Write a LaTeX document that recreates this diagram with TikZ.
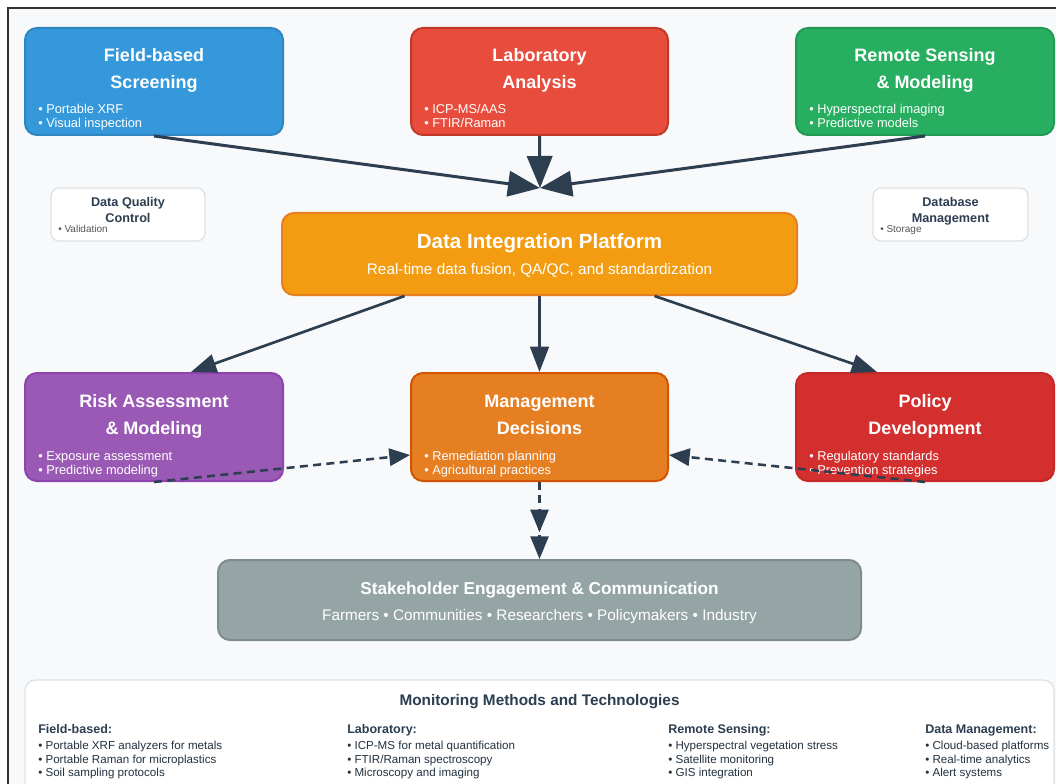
\documentclass[tikz,border=0pt]{standalone}
\usepackage{fontspec}
\setmainfont{Liberation Sans}
\usetikzlibrary{arrows.meta,calc}
\definecolor{cBg}{HTML}{F8F9FA}
\definecolor{cFrame}{HTML}{333333}
\definecolor{cBlue}{HTML}{3498DB}
\definecolor{cBlueD}{HTML}{2E86C1}
\definecolor{cRed}{HTML}{E74C3C}
\definecolor{cRedD}{HTML}{C0392B}
\definecolor{cGreen}{HTML}{27AE60}
\definecolor{cGreenD}{HTML}{229954}
\definecolor{cOrange}{HTML}{F39C12}
\definecolor{cOrangeD}{HTML}{E67E22}
\definecolor{cPurple}{HTML}{9B59B6}
\definecolor{cPurpleD}{HTML}{8E44AD}
\definecolor{cMgmt}{HTML}{E67E22}
\definecolor{cMgmtD}{HTML}{D35400}
\definecolor{cPolicy}{HTML}{D32F2F}
\definecolor{cPolicyD}{HTML}{C62828}
\definecolor{cStake}{HTML}{95A5A6}
\definecolor{cStakeD}{HTML}{7F8C8D}
\definecolor{cDark}{HTML}{2C3E50}
\definecolor{cGrayT}{HTML}{555555}
\definecolor{cLine}{HTML}{DEE2E6}
\tikzset{
  sz/.style 2 args={minimum width=#1*0.75pt, minimum height=#2*0.75pt},
  cbox/.style={draw, rounded corners=9pt, line width=1.5pt, inner sep=0pt},
  wbox/.style={draw=cLine, fill=white, rounded corners=6pt, line width=1pt, inner sep=0pt},
  ttl/.style={text=white, font=\bfseries\fontsize{13.5}{16}\selectfont, anchor=base, inner sep=0pt},
  bul/.style={text=white, font=\fontsize{9.6}{11}\selectfont, anchor=base west, inner sep=0pt},
  wttl/.style={text=cDark, font=\bfseries\fontsize{9.5}{11}\selectfont, anchor=base, inner sep=0pt},
  wbul/.style={text=cGrayT, font=\fontsize{7.5}{9}\selectfont, anchor=base west, inner sep=0pt},
  phead/.style={text=cDark, font=\bfseries\fontsize{9.4}{11}\selectfont, anchor=base west, inner sep=0pt},
  pbul/.style={text=cDark!80!black, font=\fontsize{8.7}{10}\selectfont, anchor=base west, inner sep=0pt},
  arrS/.style={draw=cDark, line width=2.25pt, -{Triangle[length=24pt,width=19pt]}},
  arrM/.style={draw=cDark, line width=2pt, -{Triangle[length=19pt,width=14pt]}},
  arrD/.style={draw=cDark, line width=1.9pt, dash pattern=on 6pt off 4pt, -{Triangle[length=15.5pt,width=13pt]}},
  arrDD/.style={draw=cDark, line width=1.9pt, dash pattern=on 6pt off 4pt,
     -{Triangle[length=17pt,width=13.5pt,sep=3pt]Triangle[length=17pt,width=13.5pt]}}
}
\begin{document}
\begin{tikzpicture}[x=0.75pt,y=-0.75pt]
\clip (0,0) rectangle (1056,784);
\fill[white] (0,0) rectangle (1056,784);
\fill[cBg] (8,8) rectangle (1056,784);
\draw[cFrame, line width=1pt] (8,784) -- (8,8) -- (1056,8);

% top row
\node[cbox, fill=cBlue, draw=cBlueD, sz={258}{107}] (field) at (154,81.5) {};
\node[cbox, fill=cRed, draw=cRedD, sz={257}{107}] (lab) at (539.5,81.5) {};
\node[cbox, fill=cGreen, draw=cGreenD, sz={258}{107}] (remote) at (925,81.5) {};
\node[ttl] (fieldT1) at (154,62) {Field-based};
\node[ttl] (fieldT2) at (154,89) {Screening};
\node[bul] (fieldB1) at (38,114) {• Portable XRF};
\node[bul] (fieldB2) at (38,128) {• Visual inspection};
\node[ttl] (labT1) at (539.5,62) {Laboratory};
\node[ttl] (labT2) at (539.5,89) {Analysis};
\node[bul] (labB1) at (424,114) {• ICP-MS/AAS};
\node[bul] (labB2) at (424,128) {• FTIR/Raman};
\node[ttl] (remT1) at (925,62) {Remote Sensing};
\node[ttl] (remT2) at (925,89) {\& Modeling};
\node[bul] (remB1) at (809,114) {• Hyperspectral imaging};
\node[bul] (remB2) at (809,128) {• Predictive models};

% side white boxes
\node[wbox, sz={154}{53}] (dq) at (128,214.5) {};
\node[wttl] (dqT1) at (128,207) {Data Quality};
\node[wttl] (dqT2) at (128,223) {Control};
\node[wbul] (dqB) at (58,233) {• Validation};
\node[wbox, sz={155}{53}] (db) at (950.5,214.5) {};
\node[wttl] (dbT1) at (950.5,207) {Database};
\node[wttl] (dbT2) at (950.5,223) {Management};
\node[wbul] (dbB) at (880,233) {• Storage};

% data integration
\node[cbox, fill=cOrange, draw=cOrangeD, sz={515}{82}] (dip) at (539.5,254) {};
\node[text=white, font=\bfseries\fontsize{15.4}{18}\selectfont, anchor=base, inner sep=0pt] (dipT) at (539.5,248) {Data Integration Platform};
\node[text=white, font=\fontsize{11.5}{14}\selectfont, anchor=base, inner sep=0pt] (dipS) at (539.5,275) {Real-time data fusion, QA/QC, and standardization};

% middle row
\node[cbox, fill=cPurple, draw=cPurpleD, sz={258}{108}] (risk) at (154,427) {};
\node[cbox, fill=cMgmt, draw=cMgmtD, sz={257}{108}] (mgmt) at (539.5,427) {};
\node[cbox, fill=cPolicy, draw=cPolicyD, sz={258}{108}] (policy) at (925,427) {};
\node[ttl] (riskT1) at (154,407) {Risk Assessment};
\node[ttl] (riskT2) at (154,434) {\& Modeling};
\node[bul] (riskB1) at (38,460) {• Exposure assessment};
\node[bul] (riskB2) at (38,474) {• Predictive modeling};
\node[ttl] (mgmtT1) at (539.5,407) {Management};
\node[ttl] (mgmtT2) at (539.5,434) {Decisions};
\node[bul] (mgmtB1) at (424,460) {• Remediation planning};
\node[bul] (mgmtB2) at (424,474) {• Agricultural practices};
\node[ttl] (polT1) at (925,407) {Policy};
\node[ttl] (polT2) at (925,434) {Development};
\node[bul] (polB1) at (809,460) {• Regulatory standards};
\node[bul] (polB2) at (809,474) {• Prevention strategies};

% stakeholder
\node[cbox, fill=cStake, draw=cStakeD, sz={643}{80}] (stake) at (539.5,600) {};
\node[text=white, font=\bfseries\fontsize{12.9}{15}\selectfont, anchor=base, inner sep=0pt] (stakeT) at (539.5,594) {Stakeholder Engagement \& Communication};
\node[text=white, font=\fontsize{11.5}{14}\selectfont, anchor=base, inner sep=0pt] (stakeS) at (539.5,620) {Farmers • Communities • Researchers • Policymakers • Industry};

% bottom panel
\node[wbox, rounded corners=8pt, sz={1029}{130}] (panel) at (539.5,745) {};
\node[text=cDark, font=\bfseries\fontsize{11.5}{14}\selectfont, anchor=base, inner sep=0pt] (panelT) at (539.5,705) {Monitoring Methods and Technologies};
\node[phead] (h1) at (38,733) {Field-based:};
\node[pbul] (h1a) at (38,749) {• Portable XRF analyzers for metals};
\node[pbul] (h1b) at (38,763) {• Portable Raman for microplastics};
\node[pbul] (h1c) at (38,776) {• Soil sampling protocols};
\node[phead] (h2) at (347,733) {Laboratory:};
\node[pbul] (h2a) at (347,749) {• ICP-MS for metal quantification};
\node[pbul] (h2b) at (347,763) {• FTIR/Raman spectroscopy};
\node[pbul] (h2c) at (347,776) {• Microscopy and imaging};
\node[phead] (h3) at (668,733) {Remote Sensing:};
\node[pbul] (h3a) at (668,749) {• Hyperspectral vegetation stress};
\node[pbul] (h3b) at (668,763) {• Satellite monitoring};
\node[pbul] (h3c) at (668,776) {• GIS integration};
\node[phead] (h4) at (925,733) {Data Management:};
\node[pbul] (h4a) at (925,749) {• Cloud-based platforms};
\node[pbul] (h4b) at (925,763) {• Real-time analytics};
\node[pbul] (h4c) at (925,776) {• Alert systems};

% connectors
\coordinate (conv) at (540,188);
\draw[arrS] (field.south) -- (conv);
\draw[arrS] (lab.south) -- (conv);
\draw[arrS] (remote.south) -- (conv);
\draw[arrM] ($(dip.south)+(-135,0)$) -- ($(risk.north)+(37,0)$);
\draw[arrM] (dip.south) -- (mgmt.north);
\draw[arrM] ($(dip.south)+(115,0)$) -- ($(policy.north)+(-48,0)$);
\draw[arrD] (risk.south) -- ($(mgmt.west)+(0,28)$);
\draw[arrD] (policy.south) -- ($(mgmt.east)+(0,28)$);
\draw[arrDD] (mgmt.south) -- (stake.north);
\end{tikzpicture}
\end{document}
